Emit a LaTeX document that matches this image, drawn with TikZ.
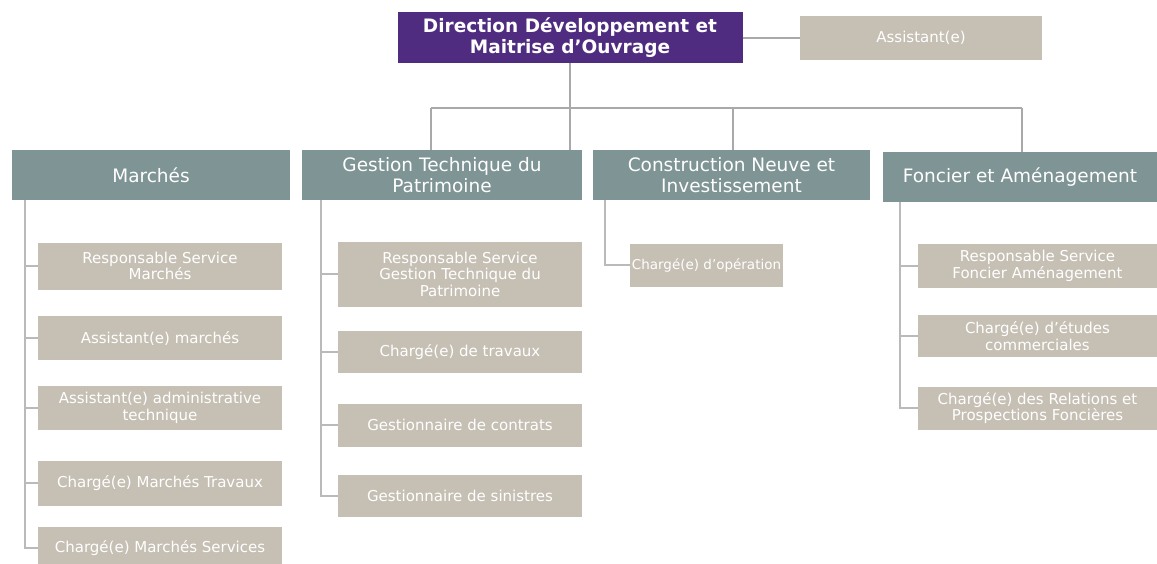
\documentclass[tikz,border=0pt]{standalone}
\usepackage{fontspec}
\setmainfont{DejaVu Sans}
\usetikzlibrary{positioning}
\definecolor{dirviolet}{HTML}{4F2C80}
\definecolor{chefgris}{HTML}{7F9495}
\definecolor{postebeige}{HTML}{C6BFB4}
\definecolor{trait}{HTML}{A9A9A9}

\begin{document}
\begin{tikzpicture}[x=1pt,y=-1pt,
	direction/.style={fill=dirviolet,text=white,font=\bfseries\fontsize{18.5}{21}\selectfont,align=center,minimum width=345,minimum height=51,inner sep=0},
	chef/.style={fill=chefgris,text=white,font=\fontsize{18.5}{21}\selectfont,align=center,minimum height=50,inner sep=0},
	poste/.style={fill=postebeige,text=white,font=\fontsize{15}{16.5}\selectfont,align=center,minimum width=244,inner sep=0},
	lien/.style={draw=trait,line width=1.8pt},
	rail/.style={draw=trait!80,line width=1.2pt}]
					\useasboundingbox (0,0) rectangle (1157,563);
					
					%DIRECTION
					\node[direction] (dir) at (570,37.5) {Direction Développement et\\Maitrise d'Ouvrage};
					\node[poste,minimum width=242,minimum height=44] (asst) at (921,38) {Assistant(e)};
					\draw[lien] (dir.east |- asst) -- (asst.west);
					
					%SERVICES
					\node[chef,minimum width=278] (march) at (151,175) {Marchés};
					\node[chef,minimum width=280] (gest) at (442,175) {Gestion Technique du\\Patrimoine};
					\node[chef,minimum width=277] (constr) at (731.5,175) {Construction Neuve et\\Investissement};
					\node[chef,minimum width=274] (fonc) at (1020,177) {Foncier et Aménagement};
					
					%BUS
					\coordinate (busg) at (431,108);
					\coordinate (busc) at (733,108);
					\coordinate (busd) at (1022,108);
					\draw[lien] (busg) -- (busd);
					\draw[lien] (dir.south) -- (dir.south |- gest.north);
					\draw[lien] (busg) -- (busg |- gest.north);
					\draw[lien] (busc) -- (busc |- constr.north);
					\draw[lien] (busd) -- (busd |- fonc.north);
					
					%POSTES MARCHES
					\node[poste,minimum height=47] (m1) at (160,266) {Responsable Service\\Marchés};
					\node[poste,minimum height=44] (m2) at (160,338) {Assistant(e) marchés};
					\node[poste,minimum height=44] (m3) at (160,408) {Assistant(e) administrative\\technique};
					\node[poste,minimum height=45] (m4) at (160,483) {Chargé(e) Marchés Travaux};
					\node[poste,minimum height=42] (m5) at (160,548) {Chargé(e) Marchés Services};
					\coordinate (rm) at (25,0);
					\draw[rail] (rm |- march.south) |- (m5.west);
					\foreach \p in {m1,m2,m3,m4}
						\draw[rail] (rm |- \p) -- (\p.west);
					
					%POSTES GESTION
					\node[poste,minimum height=65] (g1) at (460,274) {Responsable Service\\Gestion Technique du\\Patrimoine};
					\node[poste,minimum height=42] (g2) at (460,352) {Chargé(e) de travaux};
					\node[poste,minimum height=43] (g3) at (460,425) {Gestionnaire de contrats};
					\node[poste,minimum height=42] (g4) at (460,496) {Gestionnaire de sinistres};
					\coordinate (rg) at (321,0);
					\draw[rail] (rg |- gest.south) |- (g4.west);
					\foreach \p in {g1,g2,g3}
						\draw[rail] (rg |- \p) -- (\p.west);
					
					%POSTES CONSTRUCTION
					\node[poste,minimum width=153,minimum height=43,font=\fontsize{13.5}{15}\selectfont] (c1) at (706.5,265) {Chargé(e) d'opération};
					\coordinate (rc) at (605,0);
					\draw[rail] (rc |- constr.south) |- (c1.west);
					
					%POSTES FONCIER
					\node[poste,minimum width=239,minimum height=44] (f1) at (1037.5,266) {Responsable Service\\Foncier Aménagement};
					\node[poste,minimum width=239,minimum height=42] (f2) at (1037.5,336) {Chargé(e) d'études\\commerciales};
					\node[poste,minimum width=239,minimum height=43] (f3) at (1037.5,408) {Chargé(e) des Relations et\\Prospections Foncières};
					\coordinate (rf) at (900,0);
					\draw[rail] (rf |- fonc.south) |- (f3.west);
					\foreach \p in {f1,f2}
						\draw[rail] (rf |- \p) -- (\p.west);
				  \end{tikzpicture}
\end{document}
